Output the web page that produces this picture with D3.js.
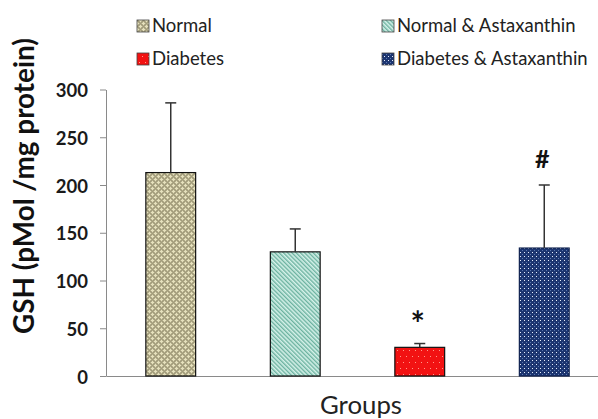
<!DOCTYPE html>
<html>
<head>
<meta charset="utf-8">
<script src="https://cdn.jsdelivr.net/npm/d3@7"></script>
<style>
  html, body { margin: 0; padding: 0; background: #fff; }
  svg { display: block; font-family: Lato, "Open Sans", sans-serif; }
</style>
</head>
<body>
<svg id="chart" width="598" height="419"></svg>
<script>
// GSH level per group (mean and SD)
const groups = ["Normal", "Normal & Astaxanthin", "Diabetes", "Diabetes & Astaxanthin"];
const means = [213, 130, 30, 134];
const errors = [73, 24, 4, 66];
const marks = ["", "", "*", "#"];
const yTicks = [0, 50, 100, 150, 200, 250, 300];

const svg = d3.select("#chart");
const plot = { left: 106, right: 609, top: 89.5, bottom: 376 };

// ---- fill patterns ----
const defs = svg.append("defs");

// Normal: khaki weave with cream crosses
{
  const p = defs.append("pattern").attr("id", "pat0").attr("patternUnits", "userSpaceOnUse")
    .attr("width", 6).attr("height", 6);
  p.append("rect").attr("width", 6).attr("height", 6).attr("fill", "#a19b7a");
  for (let i = 0; i < 6; i++) for (let j = 0; j < 6; j++) {
    if ((i + j) % 2 === 0) p.append("rect").attr("x", i).attr("y", j).attr("width", 1).attr("height", 1).attr("fill", "#b4ae8c");
  }
  [[2,1],[1,2],[2,2],[3,2],[2,3],[5,4],[4,5],[5,5],[0,5],[5,0]].forEach(([x, y]) =>
    p.append("rect").attr("x", x).attr("y", y).attr("width", 1).attr("height", 1).attr("fill", "#e6e1bd"));
}
// Normal & Astaxanthin: teal diagonal stripes
{
  const p = defs.append("pattern").attr("id", "pat1").attr("patternUnits", "userSpaceOnUse")
    .attr("width", 3).attr("height", 3).attr("patternTransform", "rotate(-45)");
  p.append("rect").attr("width", 3).attr("height", 3).attr("fill", "#d6f2ea");
  p.append("rect").attr("width", 1.4).attr("height", 3).attr("fill", "#6cb2a0");
}
// Diabetes: red with sparse light dots
{
  const p = defs.append("pattern").attr("id", "pat2").attr("patternUnits", "userSpaceOnUse")
    .attr("width", 12).attr("height", 12);
  p.append("rect").attr("width", 12).attr("height", 12).attr("fill", "#f21212");
  [[1,2],[7,2],[4,8],[10,8]].forEach(([x, y]) =>
    p.append("rect").attr("x", x).attr("y", y).attr("width", 1).attr("height", 1).attr("fill", "#ff9a8a"));
}
// Diabetes & Astaxanthin: navy with white dots
{
  const p = defs.append("pattern").attr("id", "pat3").attr("patternUnits", "userSpaceOnUse")
    .attr("width", 4).attr("height", 4);
  p.append("rect").attr("width", 4).attr("height", 4).attr("fill", "#1c3570");
  p.append("rect").attr("x", 0).attr("y", 0).attr("width", 1).attr("height", 1).attr("fill", "#e8eefa");
  p.append("rect").attr("x", 2).attr("y", 2).attr("width", 1).attr("height", 1).attr("fill", "#5877b2");
}
const fills = groups.map((g, i) => `url(#pat${i})`);

// ---- scales ----
const x = d3.scaleBand().domain(groups).range([plot.left, plot.right])
  .paddingInner(0.6).paddingOuter(0.32);
const y = d3.scaleLinear().domain([0, 300]).range([plot.bottom, plot.top]);

// shrink/grow a text node's font size so it spans the given width
function fitWidth(sel, target) {
  const fs = parseFloat(sel.attr("font-size"));
  const w = sel.node().getComputedTextLength();
  sel.attr("font-size", (fs * target / w).toFixed(2));
  return sel;
}

// ---- y axis ----
const yAxis = svg.append("g").attr("transform", `translate(${plot.left},0)`)
  .call(d3.axisLeft(y).tickValues(yTicks).tickSize(6).tickPadding(12).tickSizeOuter(0));
yAxis.select(".domain").attr("stroke", "#8a8a8a");
yAxis.selectAll(".tick line").attr("stroke", "#8a8a8a");
yAxis.selectAll(".tick text").attr("font-family", "Lato, sans-serif").attr("font-weight", "bold")
  .attr("font-size", 18.5).attr("fill", "#1a1a1a").attr("dy", "0.38em");

// ---- x axis (baseline only) ----
const xAxis = svg.append("g").attr("transform", `translate(0,${plot.bottom})`)
  .call(d3.axisBottom(x).tickSize(0).tickFormat(""));
xAxis.select(".domain").attr("stroke", "#8a8a8a");

// ---- bars ----
svg.append("g").selectAll("rect").data(groups).join("rect")
  .attr("x", d => x(d))
  .attr("y", (d, i) => y(means[i]))
  .attr("width", x.bandwidth())
  .attr("height", (d, i) => y(0) - y(means[i]))
  .attr("fill", (d, i) => fills[i])
  .attr("stroke", (d, i) => i === 3 ? "#0f2250" : "#111")
  .attr("stroke-width", 1.2);

// ---- error bars (upper SD) ----
const cap = 11;
const eb = svg.append("g").attr("stroke", "#333").attr("stroke-width", 1.5);
groups.forEach((g, i) => {
  const cx = x(g) + x.bandwidth() / 2;
  eb.append("line").attr("x1", cx).attr("x2", cx).attr("y1", y(means[i])).attr("y2", y(means[i] + errors[i]));
  eb.append("line").attr("x1", cx - cap / 2).attr("x2", cx + cap / 2)
    .attr("y1", y(means[i] + errors[i])).attr("y2", y(means[i] + errors[i]));
});

// ---- significance marks, centred ~27px above the error cap ----
const markSize = { "*": 34, "#": 25 };
groups.forEach((g, i) => {
  if (!marks[i]) return;
  const cx = x(g) + x.bandwidth() / 2 - 2;
  const cy = y(means[i] + errors[i]) - 27;
  const t = svg.append("text").attr("x", cx).attr("y", cy)
    .attr("text-anchor", "middle").attr("font-weight", "bold")
    .attr("font-size", markSize[marks[i]]).attr("fill", "#111").text(marks[i]);
  const bb = t.node().getBBox();
  // shift so the glyph box (not the line box) is centred on cy
  const glyphTop = marks[i] === "*" ? bb.y + bb.height * 0.18 : bb.y + bb.height * 0.22;
  const glyphBottom = marks[i] === "*" ? bb.y + bb.height * 0.52 : bb.y + bb.height * 0.78;
  t.attr("y", cy + (cy - (glyphTop + glyphBottom) / 2));
});

// ---- legend ----
const legendPos = [[137, 20], [382, 20], [137, 53], [382, 53]];
const lg = svg.append("g");
groups.forEach((g, i) => {
  const [lx, ly] = legendPos[i];
  lg.append("rect").attr("x", lx).attr("y", ly).attr("width", 12).attr("height", 12)
    .attr("fill", fills[i]).attr("stroke", "#444").attr("stroke-width", 0.8);
  lg.append("text").attr("x", lx + 15).attr("y", ly + 11.5)
    .attr("font-size", 18.5).attr("fill", "#222").text(g);
});

// ---- axis titles ----
const yt = svg.append("text")
  .attr("transform", "translate(34,186) rotate(-90)")
  .attr("text-anchor", "middle").attr("font-weight", "bold").attr("font-size", 24)
  .attr("fill", "#111").text("GSH (pMol /mg protein)");
fitWidth(yt, 296);

const xt = svg.append("text").attr("x", 361).attr("y", 414)
  .attr("text-anchor", "middle").attr("font-size", 24).attr("fill", "#222").text("Groups");
fitWidth(xt, 82);
</script>
</body>
</html>
